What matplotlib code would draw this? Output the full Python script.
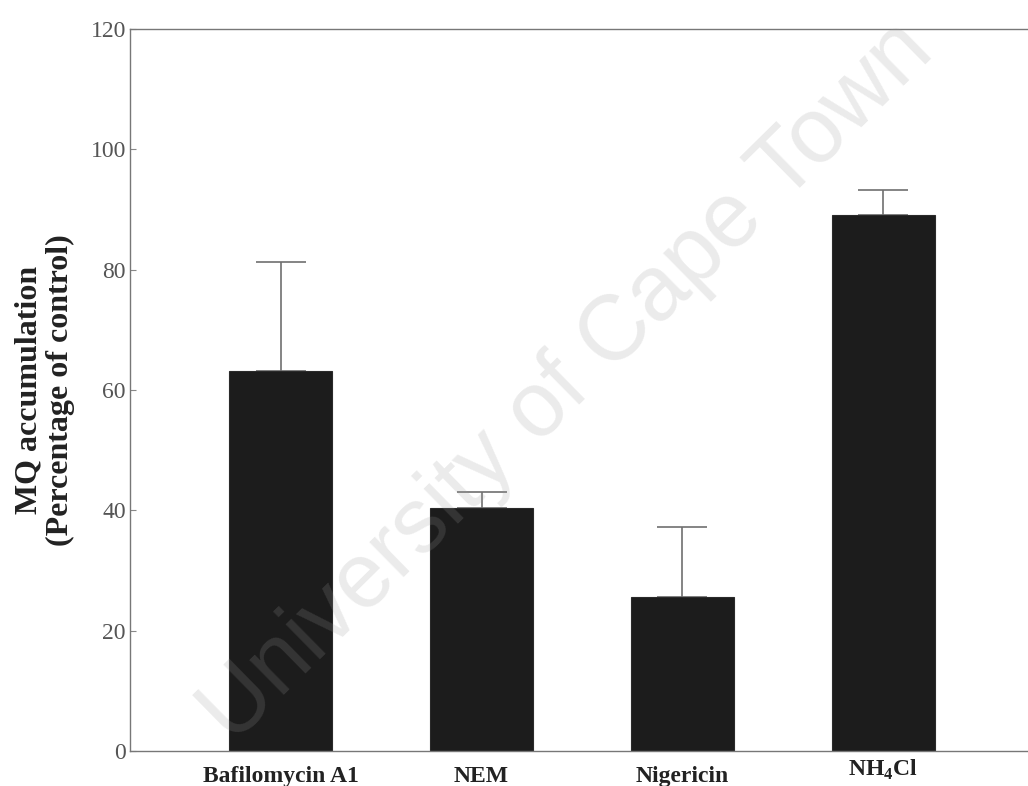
import matplotlib
matplotlib.use("Agg")
import matplotlib.pyplot as plt
import numpy as np

# Treatments and MQ accumulation (% of control), mean and upper SD
treatments = ["Bafilomycin A1", "NEM", "Nigericin", r"NH$_\mathbf{4}$Cl"]
accumulation = [63.2, 40.4, 25.6, 89.1]
upper_err = [18.1, 2.6, 11.6, 4.1]
y_ticks = [0, 20, 40, 60, 80, 100, 120]

plt.rcParams["font.family"] = ["Liberation Serif", "DejaVu Serif"]
plt.rcParams["mathtext.fontset"] = "custom"
plt.rcParams["mathtext.bf"] = "Liberation Serif:bold"
plt.rcParams["mathtext.rm"] = "Liberation Serif:bold"

fig = plt.figure(figsize=(10.28, 7.86), dpi=100)
ax = fig.add_axes([130 / 1028, 35 / 786, 898 / 1028, 722 / 786])

x = np.arange(len(treatments))
ax.bar(x, accumulation, width=0.51, color="#1c1c1c", edgecolor="#2a2a2a",
       linewidth=0.8, zorder=2)
ax.errorbar(x, accumulation, yerr=[np.zeros(len(x)), upper_err], fmt="none",
            ecolor="#707070", elinewidth=1.2, capsize=18, capthick=1.2, zorder=1)

ax.set_xlim(-0.75, 3.72)
ax.set_ylim(0, 120)
ax.set_yticks(y_ticks)
ax.set_yticklabels([str(v) for v in y_ticks], fontsize=17, color="#555555")
ax.tick_params(axis="y", direction="in", length=4, width=0.8, color="#888888", pad=3)
ax.set_xticks(x)
ax.set_xticklabels(treatments, fontsize=17, fontweight="bold", color="#222222")
ax.tick_params(axis="x", length=0, pad=11)
ax.get_xticklabels()[3].set_y(0.012)

for side in ("left", "top", "bottom"):
    ax.spines[side].set_color("#777777")
    ax.spines[side].set_linewidth(1.0)
ax.spines["right"].set_visible(False)

ax.set_ylabel("MQ accumulation\n(Percentage of control)", fontsize=23,
              fontweight="bold", color="#222222", labelpad=11, linespacing=1.12)

# Institutional watermark across the plot
fig.text(0.552, 0.513, "University of Cape Town", family="Liberation Sans",
         fontsize=66, rotation=44.5, ha="center", va="center",
         color=(0.6, 0.6, 0.6), alpha=0.2, zorder=10)

fig.savefig("out.png", dpi=100)
